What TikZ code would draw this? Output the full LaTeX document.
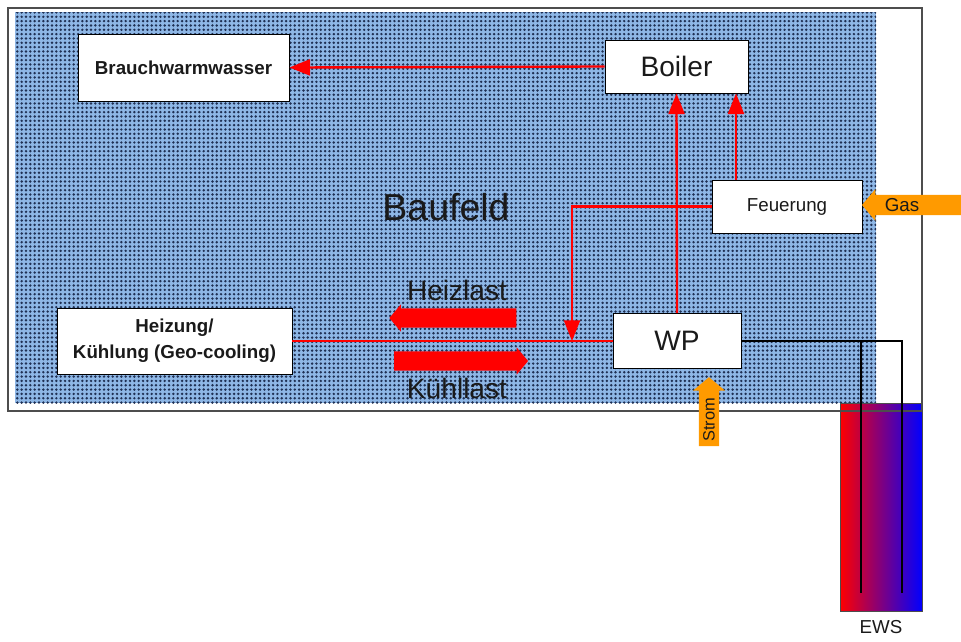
\documentclass[tikz,border=0pt]{standalone}
\usepackage{fontspec}
\setmainfont{Liberation Sans}
\usetikzlibrary{arrows.meta,calc,positioning,patterns.meta,shapes.arrows}
\definecolor{field}{HTML}{8EB7E6}
\definecolor{dotink}{HTML}{1F3054}
\definecolor{frame}{HTML}{4D4D4D}
\definecolor{supply}{HTML}{FF9A00}
\definecolor{hot}{HTML}{FF0000}
\definecolor{cold}{HTML}{0000FF}
\definecolor{ink}{HTML}{1A1A1A}
\tikzset{>=Latex,
  every node/.style={font=\fontsize{16pt}{19pt}\selectfont,text=ink},
  unit/.style={draw=black,fill=white,line width=.7pt,inner sep=0pt,align=center},
  flow/.style={draw=hot,line width=2pt,-{Triangle[length=.62cm,width=.48cm]}},
  hotline/.style={draw=hot,line width=2pt},
  pipe/.style={draw=black,line width=1.7pt},
  loadarrow/.style={single arrow,fill=hot,inner sep=.285cm,single arrow tip angle=100,
    single arrow head extend=.12cm},
  supplyarrow/.style={single arrow,fill=supply,inner sep=.3cm,single arrow tip angle=100,
    single arrow head extend=.17cm},
  big/.style={font=\fontsize{24pt}{28pt}\selectfont}}

\begin{document}
\begin{tikzpicture}[x=.03cm,y=-.03cm]
\useasboundingbox (0,0) rectangle (961,641);
\fill[white] (8,8) rectangle (922,411);
\fill[field] (15,12) rectangle (876,403);
\fill[pattern={Dots[distance=3.7pt,radius=1.15pt]},pattern color=dotink] (15,12) rectangle (876,403);
\node[draw=frame,line width=.6pt,left color=hot,right color=cold,middle color=hot!50!cold,
  minimum width=2.46cm,minimum height=6.24cm,inner sep=0pt] (EWS) at (881,507) {};
\draw[frame,line width=1.2pt] (8,8) rectangle (922,411);
\node[below=4pt of EWS] (EWSlabel) {EWS};

\node[unit,font=\bfseries\fontsize{16pt}{19pt}\selectfont,minimum width=6.33cm,minimum height=2.01cm] (BWW) at (183.5,67.5) {Brauchwarmwasser};
\node[unit,big,minimum width=4.29cm,minimum height=1.59cm] (Boiler) at (676.5,66.5) {Boiler};
\node[unit,minimum width=4.5cm,minimum height=1.59cm] (Feuerung) at (787,206.5) {Feuerung};
\node[unit,big,minimum width=3.84cm,minimum height=1.65cm] (WP) at (677,341) {WP};
\node[unit,font=\bfseries\fontsize{16pt}{22pt}\selectfont,minimum width=7.05cm,minimum height=1.98cm] (Heizung) at (174.5,341) {Heizung/\\Kühlung (Geo-cooling)};
\node[font=\fontsize{32pt}{38pt}\selectfont] (Baufeld) at (446,207) {Baufeld};

\coordinate (junc) at (572,341);
\coordinate (ewsL) at (861,593);
\coordinate (ewsR) at (902,593);
\draw[hotline] (Heizung.east) -- (WP.west);
\draw[flow] (Boiler.west) -- (BWW.east);
\draw[flow] (WP.north) -- (Boiler.south);
\draw[flow] ([xshift=-1.53cm]Feuerung.north) -- ([xshift=-1.53cm]Feuerung.north |- Boiler.south);
\draw[flow] (Feuerung.west) -| (junc);
\draw[pipe] (WP.east) -| (ewsR);
\draw[pipe] (WP.east -| ewsL) -- (ewsL);

\node[loadarrow,shape border rotate=180,minimum height=3.81cm] (HeizArrow) at (457,318) {};
\node[loadarrow,minimum height=4.02cm] (KuehlArrow) at (457,361) {};
\node[big] (Heizlast) at (457,290) {Heizlast};
\node[big] (Kuehllast) at (457,388) {Kühllast};

\node[supplyarrow,shape border rotate=180,minimum height=3.1cm] (GasArrow) at (918,205) {};
\node (Gas) at (902,205) {Gas};
\node[supplyarrow,shape border rotate=90,minimum height=2.07cm] (StromArrow) at (709,416) {};
\node[rotate=90,font=\fontsize{14pt}{17pt}\selectfont] (Strom) at (709,420) {Strom};
\end{tikzpicture}
\end{document}
